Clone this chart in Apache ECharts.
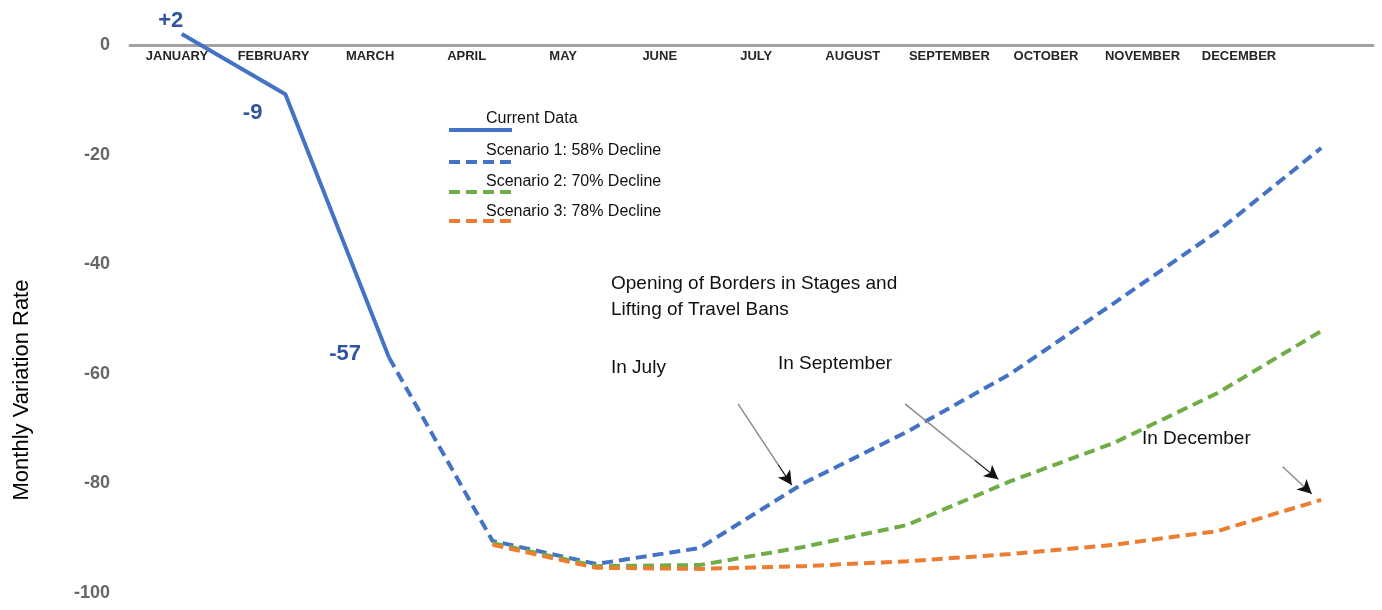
<!DOCTYPE html>
<html>
<head>
<meta charset="utf-8">
<script src="https://cdn.jsdelivr.net/npm/echarts@6/dist/echarts.min.js"></script>
<style>
  html, body { margin: 0; padding: 0; background: #fff; }
  #chart { width: 1382px; height: 610px; }
</style>
</head>
<body>
<div id="chart"></div>
<script>
// Month names shown along the zero line
const months = ['JANUARY', 'FEBRUARY', 'MARCH', 'APRIL', 'MAY', 'JUNE', 'JULY',
  'AUGUST', 'SEPTEMBER', 'OCTOBER', 'NOVEMBER', 'DECEMBER'];

// Monthly variation rate, one value per month (null = no value)
const currentData = [2, -9, -57];
const scenario1 = [null, null, -57, -90.5, -94.7, -91.8, -80, -70.6, -60, -47.1, -34, -18.8];
const scenario2 = [null, null, null, -90.9, -95.1, -94.9, -91.6, -87.6, -79.6, -72.6, -63.5, -52.2];
const scenario3 = [null, null, null, -91.2, -95.4, -95.6, -95.1, -94.2, -92.9, -91.2, -88.7, -83.0];

const seriesNames = ['Current Data', 'Scenario 1: 58% Decline', 'Scenario 2: 70% Decline', 'Scenario 3: 78% Decline'];

// Annotation texts
const headNote = 'Opening of Borders in Stages and\nLifting of Travel Bans';
const monthNotes = ['In July', 'In September', 'In December'];
const yTitle = 'Monthly Variation Rate';

// Arrow annotations in data space: [monthIndex, value] start -> tip
const arrows = [
  [[5.37, -65.5], [5.888, -80.3]],
  [[6.982, -65.5], [7.883, -79.25]],
  [[10.628, -76.95], [10.908, -81.9]]
];

const toPairs = arr => arr.map((v, i) => (v == null ? null : [i, v])).filter(Boolean);

const BLUE = '#4472c4', GREEN = '#70ad47', ORANGE = '#ed7d31', LABEL_BLUE = '#2f55a0';
const DASH = [11, 6];
const FONT = '"Liberation Sans", Arial, sans-serif';

// label placement for the three current-data points
const currentLabelStyles = [
  { position: 'top', distance: 2, offset: [-11, 0] },
  { position: 'left', distance: 23, offset: [0, 19] },
  { position: 'left', distance: 28, offset: [0, -3] }
];

const chart = echarts.init(document.getElementById('chart'), null, { renderer: 'canvas' });

const legendTops = [108, 140, 172, 203];
const legendLineHeights = [22, 22, 20, 18];

const option = {
  animation: false,
  backgroundColor: '#ffffff',
  grid: [
    { left: 130, right: 9, top: 17.6, bottom: 17 },
    { left: 177, right: 143, top: 0, height: 45 }
  ],
  xAxis: [
    {
      type: 'value', gridIndex: 0, min: -0.5, max: 11.5,
      axisLine: { show: true, onZero: true, lineStyle: { color: '#a3a3a3', width: 3 } },
      axisTick: { show: false }, axisLabel: { show: false }, splitLine: { show: false }
    },
    {
      type: 'category', gridIndex: 1, data: months, boundaryGap: false, position: 'bottom',
      axisLine: { show: false }, axisTick: { show: false }, splitLine: { show: false },
      axisLabel: {
        interval: 0, margin: 5,
        fontFamily: FONT, fontSize: 13, fontWeight: 'bold', color: '#262626'
      }
    }
  ],
  yAxis: [
    {
      type: 'value', gridIndex: 0, min: -100, max: 5, interval: 20,
      axisLine: { show: false }, axisTick: { show: false }, splitLine: { show: false },
      axisLabel: {
        showMaxLabel: false, margin: 20,
        fontFamily: FONT, fontSize: 18, fontWeight: 'bold', color: '#666'
      }
    },
    { type: 'value', gridIndex: 1, show: false }
  ],
  legend: seriesNames.map((name, i) => ({
    data: [name],
    left: 447, top: legendTops[i], padding: 0,
    orient: 'vertical',
    itemWidth: 63, itemHeight: 14,
    selectedMode: false,
    itemStyle: { opacity: 0 },
    lineStyle: { width: 4 },
    formatter: n => n + '\n',
    textStyle: {
      fontFamily: FONT, fontSize: 16, color: '#111', lineHeight: legendLineHeights[i],
      padding: [0, 0, 0, -31]
    }
  })),
  graphic: [
    {
      type: 'text', x: 22, y: 390, rotation: Math.PI / 2,
      style: {
        text: yTitle, fill: '#000', textAlign: 'center', textVerticalAlign: 'middle',
        font: 'normal 22px ' + FONT
      }
    },
    {
      type: 'text', left: 611, top: 271,
      style: { text: headNote, fill: '#111', lineHeight: 26, font: 'normal 19px ' + FONT }
    },
    {
      type: 'text', left: 611, top: 358,
      style: { text: monthNotes[0], fill: '#111', font: 'normal 19px ' + FONT }
    },
    {
      type: 'text', left: 778, top: 354,
      style: { text: monthNotes[1], fill: '#111', font: 'normal 19px ' + FONT }
    },
    {
      type: 'text', left: 1142, top: 429,
      style: { text: monthNotes[2], fill: '#111', font: 'normal 19px ' + FONT }
    }
  ],
  series: [
    {
      name: seriesNames[0], type: 'line', xAxisIndex: 0, yAxisIndex: 0,
      symbol: 'circle', symbolSize: 0, showSymbol: true, z: 5,
      lineStyle: { color: BLUE, width: 4, type: 'solid' },
      itemStyle: { color: BLUE },
      data: currentData.map((v, i) => ({
        value: [i, v],
        label: Object.assign({
          show: true,
          formatter: p => (p.value[1] > 0 ? '+' + p.value[1] : String(p.value[1])),
          fontFamily: FONT, fontSize: 22, fontWeight: 'bold', color: LABEL_BLUE
        }, currentLabelStyles[i])
      }))
    },
    {
      name: seriesNames[1], type: 'line', xAxisIndex: 0, yAxisIndex: 0,
      symbol: 'none', z: 3,
      lineStyle: { color: BLUE, width: 4, type: DASH },
      itemStyle: { color: BLUE },
      data: toPairs(scenario1)
    },
    {
      name: seriesNames[2], type: 'line', xAxisIndex: 0, yAxisIndex: 0,
      symbol: 'none', z: 3,
      lineStyle: { color: GREEN, width: 4, type: DASH },
      itemStyle: { color: GREEN },
      data: toPairs(scenario2)
    },
    {
      name: seriesNames[3], type: 'line', xAxisIndex: 0, yAxisIndex: 0,
      symbol: 'none', z: 3,
      lineStyle: { color: ORANGE, width: 4, type: DASH },
      itemStyle: { color: ORANGE },
      data: toPairs(scenario3),
      markLine: {
        silent: true, animation: false,
        label: { show: false },
        symbol: ['none', 'none'],
        data: [].concat(
          // grey shafts
          arrows.map(a => [
            { coord: a[0], lineStyle: { color: '#8c8c8c', width: 1.5, type: 'solid' } },
            { coord: a[1] }
          ]),
          // black arrow heads
          arrows.map(a => [
            { coord: [a[1][0] - (a[1][0] - a[0][0]) * 0.25, a[1][1] - (a[1][1] - a[0][1]) * 0.25],
              lineStyle: { color: '#111', width: 1, type: 'solid' } },
            { coord: a[1], symbol: 'arrow', symbolSize: [11, 14] }
          ])
        )
      }
    }
  ]
};

chart.setOption(option);
</script>
</body>
</html>
